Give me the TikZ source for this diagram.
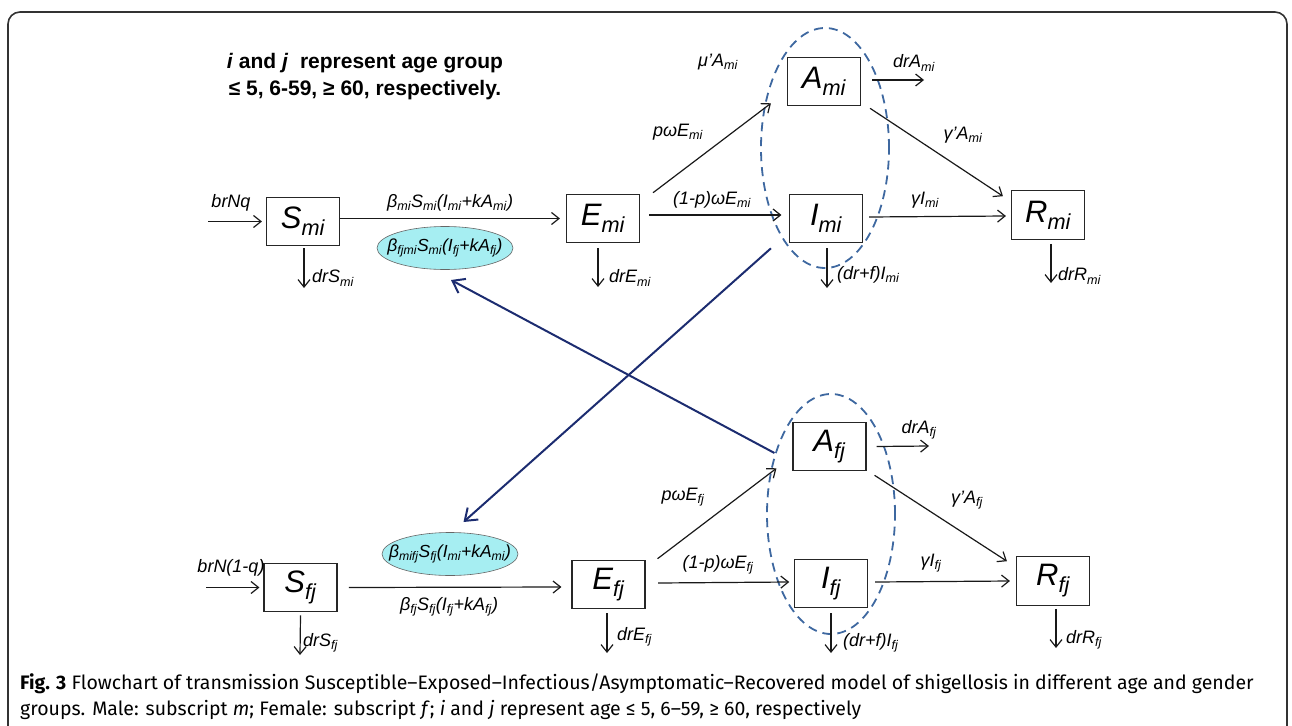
\documentclass[tikz,border=0pt]{standalone}
\usepackage{fontspec}
\setmainfont{Liberation Sans}
\newfontfamily\capfont{Fira Sans}
\usetikzlibrary{arrows.meta,shapes.geometric}
\newcommand\sbx[1]{\textsubscript{#1}}
\definecolor{navyc}{RGB}{28,44,112}
\definecolor{dashblue}{RGB}{62,104,160}
\definecolor{cyanfill}{RGB}{166,238,242}
\begin{document}
\begin{tikzpicture}[x=1pt,y=-1pt,
 box/.style={draw=black!85,line width=1.1pt,minimum width=73pt,minimum height=48.5pt,inner sep=0pt,font=\fontsize{31}{31}\selectfont\itshape},
 flow/.style={draw=black!90,line width=1.2pt,-{Straight Barb[length=7.5pt,width=12pt]}},
 lab/.style={font=\fontsize{18}{20}\selectfont\itshape,inner sep=0pt},
 grp/.style={ellipse,draw=dashblue,dash pattern=on 9pt off 6pt,line width=1.8pt,minimum width=128pt,minimum height=240pt,inner sep=0pt},
 rate/.style={ellipse,draw=black!60,fill=cyanfill,line width=0.6pt,inner sep=0pt,minimum width=136pt,minimum height=43pt,font=\fontsize{17.5}{19}\selectfont\itshape},
 cross/.style={draw=navyc,line width=2pt,-{Straight Barb[length=11pt,width=16pt]}},
 frame/.style={draw=black!80,line width=1.6pt,rounded corners=12pt}]
\useasboundingbox (0,0) rectangle (1292,725);
\draw[frame] (8,745) -- (8,12) -- (1287,12) -- (1287,745);

% title
\node[font=\fontsize{21}{27}\selectfont\bfseries,align=center,inner sep=0pt] (title) at (365,77)
  {\textit{i} and \textit{j}\ \ represent age group\\≤ 5, 6-59, ≥ 60, respectively.};

% group ellipses
\node[grp] (gM) at (825,148) {};
\node[grp] (gF) at (831,514) {};

% boxes male
\node[box] (Smi) at (303,221.5) {S\sbx{mi}};
\node[box] (Emi) at (603,218.5) {E\sbx{mi}};
\node[box] (Ami) at (824,81.5) {A\sbx{mi}};
\node[box] (Imi) at (826,218.5) {I\sbx{mi}};
\node[box] (Rmi) at (1048,215) {R\sbx{mi}};
% boxes female
\node[box] (Sfj) at (300.5,587.5) {S\sbx{fj}};
\node[box] (Efj) at (608.5,584.5) {E\sbx{fj}};
\node[box] (Afj) at (829.5,446.5) {A\sbx{fj}};
\node[box] (Ifj) at (831,583.5) {I\sbx{fj}};
\node[box] (Rfj) at (1053,581) {R\sbx{fj}};

% cyan rate ellipses
\node[rate] (CE1) at (445,248) {\makebox[0pt]{β\sbx{fjmi}S\sbx{mi}(I\sbx{fj}+kA\sbx{fj})}};
\node[rate] (CE2) at (450,554) {\makebox[0pt]{β\sbx{mifj}S\sbx{fj}(I\sbx{mi}+kA\sbx{mi})}};

% free ends
\coordinate (inM) at (208,221.5);
\coordinate (dSm) at (304,288);
\coordinate (dEm) at (598,287);
\coordinate (dAm) at (924,80);
\coordinate (dIm) at (827,288);
\coordinate (dRm) at (1051,283);
\coordinate (inF) at (206,587.5);
\coordinate (dSf) at (300,655);
\coordinate (dEf) at (607,653);
\coordinate (dAf) at (929,446);
\coordinate (dIf) at (831,653);
\coordinate (dRf) at (1056,648);
\coordinate (tipF) at (463.5,522);
\coordinate (tipM) at (451,280);

% male flows
\draw[flow,shorten >=4pt] (inM) -- (Smi.west);
\draw[flow] (Smi.east |- Emi.west) -- ([xshift=-6pt]Emi.west);
\draw[flow] ([xshift=1pt,yshift=-2pt]Smi.south) -- (dSm);
\draw[flow] ([xshift=-5pt,yshift=-5pt]Emi.south) -- (dEm);
\draw[flow] ([xshift=13pt,yshift=1pt]Emi.north east) -- ([xshift=-16pt,yshift=3pt]Ami.south west);
\draw[flow] ([xshift=9pt,yshift=3.5pt]Emi.east) -- ([xshift=-7.5pt,yshift=3.5pt]Imi.west);
\draw[flow] ([xshift=11pt,yshift=1.5pt]Ami.east) -- (dAm);
\draw[flow] ([xshift=9pt,yshift=-2pt]Ami.south east) -- ([xshift=-8pt,yshift=-6pt]Rmi.north west);
\draw[flow] ([xshift=6pt,yshift=1.5pt]Imi.east) -- ([xshift=-5pt,yshift=-1pt]Rmi.west);
\draw[flow] ([xshift=1pt,yshift=-5pt]Imi.south) -- (dIm);
\draw[flow] ([xshift=3pt,yshift=-4pt]Rmi.south) -- (dRm);

% female flows
\draw[flow,shorten >=4pt] (inF) -- (Sfj.west);
\draw[flow] ([xshift=11.4pt]Sfj.east) -- ([xshift=-10pt,yshift=-2.5pt]Efj.west);
\draw[flow] ([yshift=-3pt]Sfj.south) -- (dSf);
\draw[flow] ([xshift=-1.5pt,yshift=-4pt]Efj.south) -- (dEf);
\draw[flow] ([xshift=12pt,yshift=1pt]Efj.north east) -- ([xshift=-16pt,yshift=3pt]Afj.south west);
\draw[flow] ([xshift=12.5pt,yshift=1.5pt]Efj.east) -- ([xshift=-4.7pt,yshift=1.5pt]Ifj.west);
\draw[flow] ([xshift=10pt]Afj.east) -- (dAf);
\draw[flow] ([xshift=8pt,yshift=-4pt]Afj.south east) -- ([xshift=-9pt,yshift=-5pt]Rfj.north west);
\draw[flow] ([xshift=7pt,yshift=1.5pt]Ifj.east) -- ([xshift=-6pt]Rfj.west);
\draw[flow] ([yshift=-5pt]Ifj.south) -- (dIf);
\draw[flow] ([xshift=3pt,yshift=-3pt]Rfj.south) -- (dRf);

% cross infection arrows
\draw[cross] ([xshift=-18pt,yshift=-5pt]Imi.south west) -- (tipF);
\draw[cross] ([xshift=-18pt,yshift=-6.5pt]Afj.west) -- (tipM);

% male labels
\node[lab] (lbrNq) at (231,203) {brNq};
\node[lab,anchor=west] (ldSm) at (312,278) {drS\sbx{mi}};
\node[lab] (lbm) at (450,203) {β\sbx{mi}S\sbx{mi}(I\sbx{mi}+kA\sbx{mi})};
\node[lab,anchor=west] (ldEm) at (609,278) {drE\sbx{mi}};
\node[lab] (lpwm) at (678,132) {pωE\sbx{mi}};
\node[lab] (lqwm) at (712,200) {(1-p)ωE\sbx{mi}};
\node[lab] (lmum) at (718,62) {μ'A\sbx{mi}};
\node[lab] (ldAm) at (914,63) {drA\sbx{mi}};
\node[lab] (lgAm) at (963,135) {γ'A\sbx{mi}};
\node[lab] (lgIm) at (925,200) {γI\sbx{mi}};
\node[lab,anchor=west] (ldIm) at (837,275) {(dr+f)I\sbx{mi}};
\node[lab,anchor=west] (ldRm) at (1058,276) {drR\sbx{mi}};

% female labels
\node[lab] (lbrNf) at (231,568) {brN(1-q)};
\node[lab,anchor=west] (ldSf) at (303,643) {drS\sbx{fj}};
\node[lab] (lbf) at (449,607) {β\sbx{fj}S\sbx{fj}(I\sbx{fj}+kA\sbx{fj})};
\node[lab,anchor=west] (ldEf) at (617,637) {drE\sbx{fj}};
\node[lab] (lpwf) at (683,497) {pωE\sbx{fj}};
\node[lab] (lqwf) at (718,565) {(1-p)ωE\sbx{fj}};
\node[lab] (ldAf) at (919,430) {drA\sbx{fj}};
\node[lab] (lgAf) at (967,500) {γ'A\sbx{fj}};
\node[lab] (lgIf) at (931,563) {γI\sbx{fj}};
\node[lab,anchor=west] (ldIf) at (843,643) {(dr+f)I\sbx{fj}};
\node[lab,anchor=west] (ldRf) at (1066,640) {drR\sbx{fj}};

% caption
\node[anchor=base west,inner sep=0pt,font=\capfont\fontsize{19.5}{26}\selectfont] (cap1) at (20,689)
  {\textbf{Fig. 3} Flowchart of transmission Susceptible–Exposed–Infectious/Asymptomatic–Recovered model of shigellosis in different age and gender};
\node[anchor=base west,inner sep=0pt,font=\capfont\fontsize{19.5}{26}\selectfont] (cap2) at (20,715)
  {groups. Male: subscript \textit{m}; Female: subscript \textit{f}; \textit{i} and \textit{j} represent age ≤ 5, 6–59, ≥ 60, respectively};
\end{tikzpicture}
\end{document}
